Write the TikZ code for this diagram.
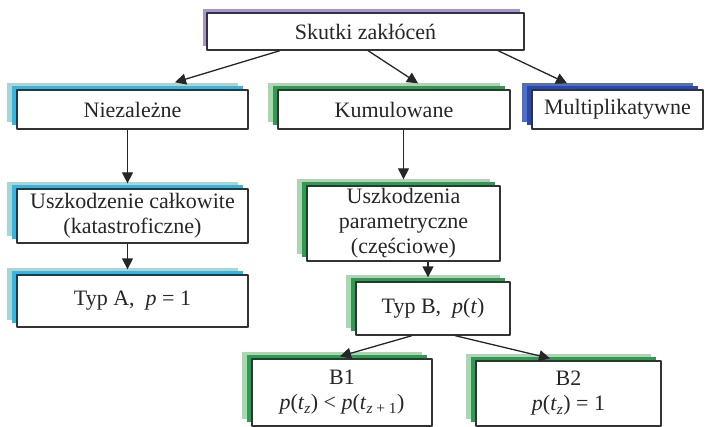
\documentclass[tikz,border=0pt]{standalone}
\usepackage{fontspec}
\setmainfont{Liberation Serif}
\usepackage{xcolor}
\usetikzlibrary{arrows.meta}
\usetikzlibrary{calc,shadows}
\definecolor{purpD}{RGB}{168,146,208}
\definecolor{cyanL}{RGB}{160,216,220}
\definecolor{cyanD}{RGB}{58,180,222}
\definecolor{greenL}{RGB}{168,216,176}
\definecolor{greenD}{RGB}{46,155,82}
\definecolor{blueL}{RGB}{80,110,200}
\definecolor{blueD}{RGB}{40,72,170}
\newcommand{\vr}[1]{\textit{#1}}
\newcommand{\sbs}[1]{\textsubscript{#1}}

\begin{document}
\begin{tikzpicture}[x=1pt,y=-1pt,line join=round,>={Triangle[length=11pt,width=11pt]}]
        \tikzset{plain/.style={draw=black!80, fill=white, line width=1.3pt, inner sep=2pt, align=center,
                text=black!85, font=\fontsize{22}{25}\selectfont}}
        \tikzset{box/.style={plain,
                general shadow={fill=#1L, shadow xshift=-10pt, shadow yshift=7pt},
                general shadow={fill=#1D, shadow xshift=-5pt, shadow yshift=4pt}}}
        \tikzset{headbox/.style={plain,
                general shadow={fill=#1D, shadow xshift=-4pt, shadow yshift=4pt}}}
        \tikzset{conn/.style={->, line width=1.3pt, black!85}}
        \useasboundingbox (0,0) rectangle (708,427);
        % level 0
        \node[headbox=purp, minimum width=317pt, minimum height=37pt] (top) at (365.5,31.5) {Skutki zakłóceń};
        % level 1
        \node[box=cyan, minimum width=231pt, minimum height=39pt] (niez) at (132.5,109.5) {Niezależne};
        \node[box=green, minimum width=232pt, minimum height=39pt] (kumul) at (394,109.5) {Kumulowane};
        \node[box=blue, minimum width=171pt, minimum height=39pt] (multi) at (617.5,109.5) {Multiplikatywne};
        % left branch
        \node[box=cyan, minimum width=231pt, minimum height=54pt] (calk) at (132.5,216) {Uszkodzenie całkowite\\(katastroficzne)};
        \node[box=cyan, minimum width=231pt, minimum height=52pt] (typA) at (132.5,301) {Typ A,\ \ \vr{p} = 1};
        % middle branch
        \node[box=green, minimum width=193pt, minimum height=75pt] (param) at (403.5,223.5) {Uszkodzenia\\parametryczne\\(częściowe)};
        \node[box=green, minimum width=154pt, minimum height=53pt] (typB) at (433,308.5) {Typ B,\ \ \vr{p}(\vr{t})};
        \node[box=green, minimum width=180pt, minimum height=67pt] (bone) at (342,392.5) {B1\\\vr{p}(\vr{t}\sbs{\vr{z}}) < \vr{p}(\vr{t}\sbs{\vr{z} + 1})};
        \node[box=green, minimum width=185pt, minimum height=65pt] (btwo) at (568.5,393.5) {B2\\\vr{p}(\vr{t}\sbs{\vr{z}}) = 1};
        % arrows
        \draw[conn] ([xshift=-85.5pt]top.south) -- ([xshift=42.5pt,yshift=7pt]niez.north);
        \draw[conn] ([xshift=2.5pt]top.south) -- ([xshift=24pt,yshift=6pt]kumul.north);
        \draw[conn] ([xshift=132.5pt]top.south) -- ([xshift=-50.5pt,yshift=6pt]multi.north);
        \draw[conn] ([xshift=-5pt]niez.south) -- ([xshift=-5pt,yshift=5pt]calk.north);
        \draw[conn] ([xshift=-5pt]calk.south) -- ([xshift=-5pt,yshift=5pt]typA.north);
        \draw[conn] (param.north |- kumul.south) -- ([yshift=6pt]param.north);
        \draw[conn] ([xshift=-5pt]typB.north |- param.south) -- ([xshift=-5pt,yshift=4pt]typB.north);
        \draw[conn] ([xshift=-21pt]typB.south) -- ([xshift=-2pt,yshift=2pt]bone.north);
        \draw[conn] ([xshift=22pt]typB.south) -- ([xshift=-18.5pt,yshift=2pt]btwo.north);
\end{tikzpicture}
\end{document}
